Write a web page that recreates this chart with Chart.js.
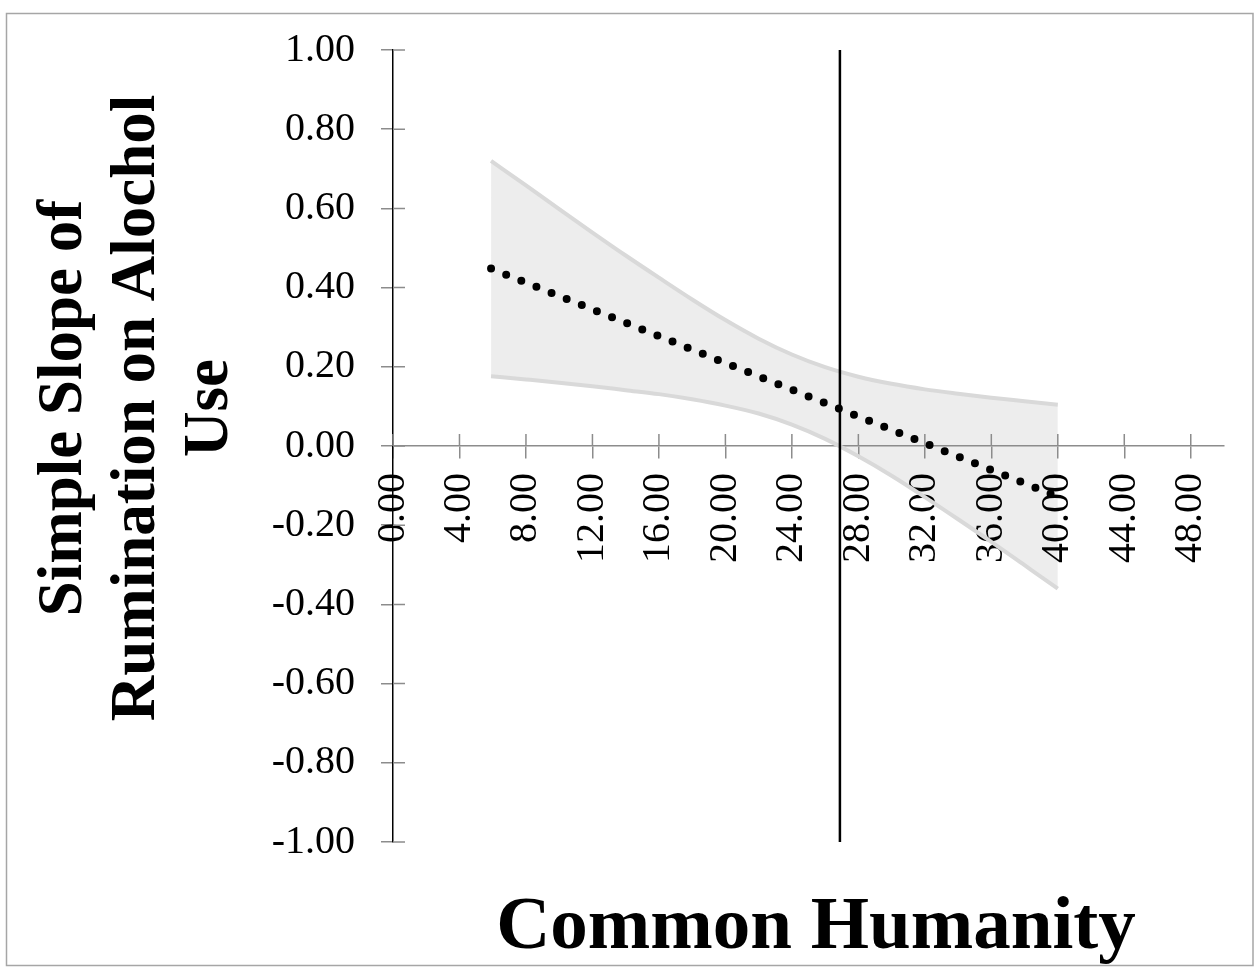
<!DOCTYPE html>
<html><head><meta charset="utf-8">
<style>html,body{margin:0;padding:0;background:#fff}canvas{display:block;background:#fff}</style>
<script src="https://cdn.jsdelivr.net/npm/chart.js@4.4.0/dist/chart.umd.min.js"></script>
</head><body>
<canvas id="c" width="1259" height="973"></canvas>
<script>
// ---- data ----
const bandX   = [5.9, 8, 10, 12, 14, 16, 18, 20, 22, 24, 26, 28, 30, 32, 34, 36, 38, 40];
const upperCI = [0.720, 0.658, 0.598, 0.539, 0.481, 0.425, 0.370, 0.318, 0.271, 0.231, 0.199, 0.175, 0.157, 0.143, 0.132, 0.122, 0.113, 0.104];
const lowerCI = [0.176, 0.168, 0.160, 0.151, 0.141, 0.131, 0.118, 0.102, 0.082, 0.054, 0.018, -0.026, -0.075, -0.129, -0.185, -0.242, -0.301, -0.360];
const slopeX  = [5.9, 40];
const slopeY  = [0.448, -0.128];
const jnX     = [26.89, 26.89];
const jnY     = [-1, 1];
const xTicks  = [0, 4, 8, 12, 16, 20, 24, 28, 32, 36, 40, 44, 48];
const yTicks  = [-1, -0.8, -0.6, -0.4, -0.2, 0, 0.2, 0.4, 0.6, 0.8, 1];
const yTitleLines = ['Simple Slope of', 'Rumination on Alochol', 'Use'];
const xTitle = 'Common Humanity';

const FONT = '"Liberation Serif", "Times New Roman", serif';
const pts = (xs, ys) => xs.map((x, i) => ({x: x, y: ys[i]}));

const innerTicks = {
  id: 'innerTicks',
  beforeDatasetsDraw(chart) {
    const ctx = chart.ctx, xs = chart.scales.x, ys = chart.scales.y;
    const y0 = ys.getPixelForValue(0), x0 = chart.chartArea.left;
    ctx.save();
    ctx.strokeStyle = '#8C8C8C'; ctx.lineWidth = 1.5;
    ctx.beginPath();
    xTicks.forEach(v => { const p = xs.getPixelForValue(v); ctx.moveTo(p, y0); ctx.lineTo(p, y0 - 12); });
    yTicks.forEach(v => { const p = ys.getPixelForValue(v); ctx.moveTo(x0, p); ctx.lineTo(x0 + 12, p); });
    ctx.stroke();
    ctx.restore();
  }
};

const titles = {
  id: 'titles',
  afterDraw(chart) {
    const ctx = chart.ctx;
    ctx.save();
    ctx.fillStyle = '#000';
    ctx.textAlign = 'center';
    ctx.textBaseline = 'alphabetic';
    ctx.font = 'bold 63px ' + FONT;
    yTitleLines.forEach((t, i) => {
      ctx.save();
      ctx.translate(81 + i * 73, 408);
      ctx.rotate(-Math.PI / 2);
      ctx.fillText(t, 0, 0);
      ctx.restore();
    });
    ctx.font = 'bold 75px ' + FONT;
    ctx.fillText(xTitle, 816, 948);
    ctx.strokeStyle = '#A6A6A6'; ctx.lineWidth = 1.5;
    ctx.strokeRect(6.5, 13.5, 1246.5, 952);
    ctx.restore();
  }
};

new Chart(document.getElementById('c'), {
  type: 'line',
  data: {
    datasets: [
      { data: pts(bandX, upperCI), borderColor: '#D9D9D9', borderWidth: 4, pointRadius: 0,
        cubicInterpolationMode: 'monotone', fill: '+1', backgroundColor: '#EDEDED', order: 2 },
      { data: pts(bandX, lowerCI), borderColor: '#D9D9D9', borderWidth: 4, pointRadius: 0,
        cubicInterpolationMode: 'monotone', fill: false, order: 3 },
      { data: pts(slopeX, slopeY), borderColor: '#000', borderWidth: 8, borderDash: [0, 16.3],
        borderCapStyle: 'round', pointRadius: 0, fill: false, order: 0 },
      { data: pts(jnX, jnY), borderColor: '#000', borderWidth: 2.5, pointRadius: 0, fill: false, order: 1 }
    ]
  },
  options: {
    responsive: false, animation: false, devicePixelRatio: 1,
    layout: { padding: { left: 0, top: 50, right: 35, bottom: 131 } },
    plugins: { legend: { display: false }, tooltip: { enabled: false }, filler: { drawTime: 'beforeDraw' } },
    scales: {
      x: {
        type: 'linear', position: { y: 0 }, min: 0, max: 50,
        afterBuildTicks: s => { s.ticks = xTicks.map(v => ({ value: v })); },
        afterFit: s => { s.height = 0; },
        ticks: { autoSkip: false, minRotation: 90, maxRotation: 90, padding: 15, color: '#000',
                 font: { family: FONT, size: 40 }, callback: v => Number(v).toFixed(2) },
        grid: { drawOnChartArea: false, drawTicks: true, tickLength: 12, color: '#8C8C8C', lineWidth: 1.5 },
        border: { display: true, color: '#8C8C8C', width: 1.5 }
      },
      y: {
        type: 'linear', position: 'left', min: -1, max: 1,
        afterBuildTicks: s => { s.ticks = yTicks.map(v => ({ value: v })); },
        afterFit: s => { s.width = 393; },
        ticks: { padding: 26, color: '#000', font: { family: FONT, size: 40 }, callback: v => Number(v).toFixed(2) },
        grid: { drawOnChartArea: false, drawTicks: true, tickLength: 12, color: '#8C8C8C', lineWidth: 1.5 },
        border: { display: true, color: '#000', width: 1.5 }
      }
    }
  },
  plugins: [innerTicks, titles]
});
</script>
</body></html>
